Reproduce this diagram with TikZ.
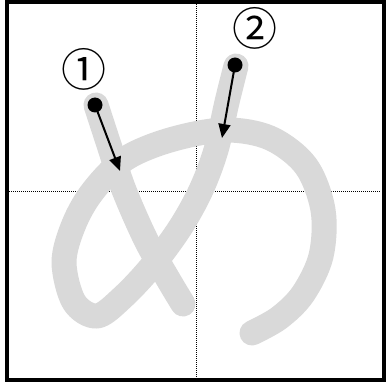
\documentclass[tikz,border=0pt]{standalone}
\usepackage{fontspec}
\newfontfamily\cjk{Noto Sans CJK JP}
\usetikzlibrary{arrows.meta}
\definecolor{strokegray}{RGB}{217,217,217}
\tikzset{
  kana/.style={line width=25pt, color=strokegray, line cap=round, line join=round},
  guide/.style={line width=1pt, dash pattern=on 1pt off 1pt},
  startdot/.style={circle, fill=black, inner sep=0pt, minimum size=15pt},
  order/.style={-{Triangle[length=14pt,width=12pt]}, line width=2pt},
  numlabel/.style={inner sep=0pt, font=\cjk\fontsize{45}{45}\selectfont}
}
\begin{document}
\begin{tikzpicture}[x=1pt,y=-1pt]
\useasboundingbox (0,0) rectangle (385,387);
\fill[white] (0,0) rectangle (385,387);
% guide lines
\draw[guide] (9,191) -- (381,191);
\draw[guide] (196,4) -- (196,378);
% stroke 2
\draw[kana] plot[smooth, tension=0.55] coordinates {
 (236,66) (227,102) (216,150) (201,190) (180,228) (152,266) (123,297) (97,316)
 (74,302) (64,262) (74,224) (93,191) (125,159) (170,140) (224,130) (270,138)
 (306,166) (323,210) (321,256) (303,294) (279,318) (252,333)};
% stroke 1
\draw[kana] plot[smooth, tension=0.55] coordinates {
 (96,105) (110,148) (124,190) (146,240) (168,279) (183,304)};
% frame
\draw[line width=4pt] (7,2) rectangle (383.5,379.7);
% start dots and arrows
\node[startdot] (d1) at (95,105) {};
\node[startdot] (d2) at (235,65) {};
\coordinate (t1) at (120,171);
\coordinate (t2) at (222,138);
\draw[order] (d1.center) -- (t1);
\draw[order] (d2.center) -- (t2);
% numbers
\node[numlabel] (n1) at (84,69) {①};
\node[numlabel] (n2) at (255,28) {②};
\end{tikzpicture}
\end{document}
